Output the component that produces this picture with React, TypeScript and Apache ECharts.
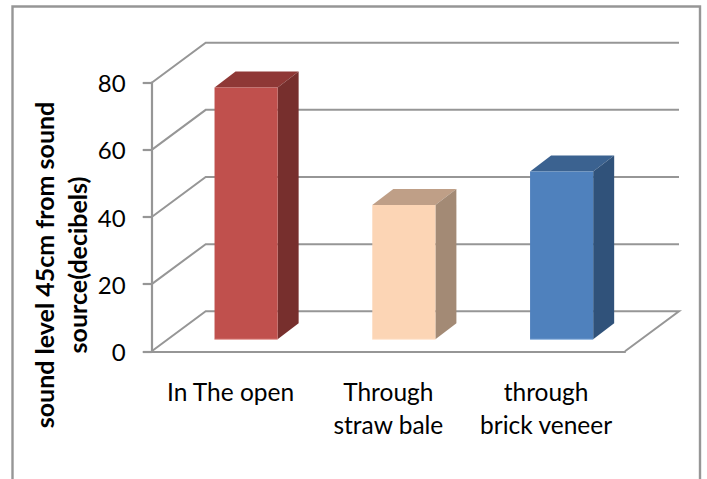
import React, { useEffect, useRef } from "react";
import * as echarts from "echarts";

const categories = ["In The open", "Through\nstraw bale", "through\nbrick veneer"];
const soundLevels = [75, 40, 50];
const yTicks = [0, 20, 40, 60, 80];
const frontColors = ["#C0504D", "#FCD5B5", "#4F81BD"];
const topColors = ["#8F3836", "#BF9F87", "#3B6290"];
const sideColors = ["#772F2D", "#A38A75", "#30527A"];
const edgeColors = ["#E39B98", "#FFE6D2", "#8FB3DE"];
const yAxisTitle = "sound level 45cm from sound\nsource(decibels)";

const FONT = "Lato, 'Open Sans', sans-serif";
const GRID_COLOR = "#969696";
const WALL_DX = 54;
const WALL_DY = -40;
const BAR_SHIFT_X = 15.5;
const BAR_SHIFT_Y = -12;
const BAR_DEPTH_X = 21;
const BAR_DEPTH_Y = -16;
const BAR_WIDTH_RATIO = 0.4;

export default function App() {
  const ref = useRef<HTMLDivElement>(null);
  useEffect(() => {
    const chart = echarts.init(ref.current!, undefined, { renderer: "svg" });
    chart.setOption({
      animation: false,
      backgroundColor: "#fff",
      graphic: [
        {
          type: "rect",
          silent: true,
          z: 0,
          shape: { x: 12.5, y: 6.5, width: 687.5, height: 500 },
          style: { fill: "#fff", stroke: "#969696", lineWidth: 2.4 },
        },
        {
          type: "text",
          silent: true,
          z: 5,
          x: 60.5,
          y: 265,
          rotation: Math.PI / 2,
          style: {
            text: yAxisTitle,
            fill: "#000",
            font: `bold 25px ${FONT}`,
            fontFamily: FONT,
            fontSize: 25,
            fontWeight: "bold",
            lineHeight: 33,
            align: "center",
            verticalAlign: "middle",
          },
        },
      ],
      grid: { left: 151.7, top: 82.7, width: 473.3, height: 268.6, outerBoundsMode: "none" },
      xAxis: {
        type: "category",
        data: categories,
        axisLine: { lineStyle: { color: GRID_COLOR, width: 2.2 } },
        axisTick: { length: 8, lineStyle: { color: GRID_COLOR, width: 2.2 } },
        axisLabel: { color: "#000", fontFamily: FONT, fontSize: 24.5, lineHeight: 33, margin: 24, interval: 0 },
      },
      yAxis: {
        type: "value",
        min: 0,
        max: 80,
        interval: 20,
        axisLine: { show: true, lineStyle: { color: GRID_COLOR, width: 2.2 } },
        axisTick: { show: true, length: 9, lineStyle: { color: GRID_COLOR, width: 2.2 } },
        axisLabel: { color: "#000", fontFamily: FONT, fontSize: 24, margin: 26 },
        splitLine: { show: false },
      },
      series: [
        {
          type: "custom",
          z: 1,
          silent: true,
          data: yTicks.map((t) => [0, t]),
          renderItem: (params: any, api: any) => {
            const sys = params.coordSys;
            const y = api.coord([0, api.value(1)])[1];
            const x0 = sys.x;
            const x1 = sys.x + sys.width;
            const points = [
              [x0, y],
              [x0 + WALL_DX, y + WALL_DY],
              [x1 + WALL_DX, y + WALL_DY],
            ];
            if (api.value(1) === 0) points.push([x1, y]);
            return {
              type: "polyline",
              shape: { points },
              style: { fill: "none", stroke: GRID_COLOR, lineWidth: 2 },
            };
          },
        },
        {
          type: "custom",
          z: 2,
          silent: true,
          data: soundLevels.map((v, i) => [i, v]),
          renderItem: (_params: any, api: any) => {
            const i = api.value(0);
            const top = api.coord([i, api.value(1)]);
            const base = api.coord([i, 0]);
            const w = api.size([1, 0])[0] * BAR_WIDTH_RATIO;
            const l = top[0] + BAR_SHIFT_X - w / 2;
            const r = l + w;
            const t = top[1] + BAR_SHIFT_Y;
            const b = base[1] + BAR_SHIFT_Y;
            return {
              type: "group",
              children: [
                {
                  type: "polygon",
                  shape: { points: [[l, t], [r, t], [r + BAR_DEPTH_X, t + BAR_DEPTH_Y], [l + BAR_DEPTH_X, t + BAR_DEPTH_Y]] },
                  style: { fill: topColors[i] },
                },
                {
                  type: "polygon",
                  shape: { points: [[r, t], [r + BAR_DEPTH_X, t + BAR_DEPTH_Y], [r + BAR_DEPTH_X, b + BAR_DEPTH_Y], [r, b]] },
                  style: { fill: sideColors[i] },
                },
                {
                  type: "rect",
                  shape: { x: l, y: t, width: w, height: b - t },
                  style: { fill: frontColors[i] },
                },
                {
                  type: "line",
                  shape: { x1: l, y1: b, x2: r, y2: b },
                  style: { stroke: edgeColors[i], lineWidth: 1 },
                },
              ],
            };
          },
        },
      ],
    });
    return () => chart.dispose();
  }, []);
  return <div ref={ref} style={{ position: "absolute", left: 0, top: 0, width: 707, height: 479 }} />;
}
